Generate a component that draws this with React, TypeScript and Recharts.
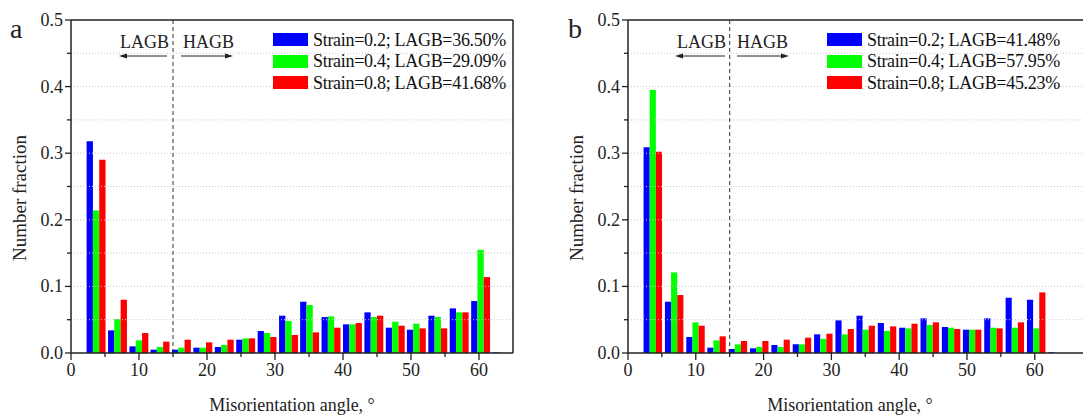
import React from 'react';
import { BarChart, Bar, XAxis, YAxis, ReferenceLine, Legend } from 'recharts';

// bin centres of the misorientation histogram, degrees
const angles = [3.7, 6.85, 10.0, 13.1, 16.25, 19.4, 22.55, 25.7, 28.85, 32.0, 35.1, 38.25, 41.4, 44.55, 47.7, 50.8, 53.95, 57.1, 60.25, 63.4];

// panel a
const aStrain02 = [0.318, 0.034, 0.010, 0.005, 0.005, 0.008, 0.009, 0.020, 0.033, 0.056, 0.077, 0.054, 0.043, 0.061, 0.038, 0.035, 0.056, 0.067, 0.078, 0.001];
const aStrain04 = [0.214, 0.051, 0.019, 0.009, 0.008, 0.008, 0.012, 0.022, 0.030, 0.048, 0.072, 0.055, 0.043, 0.054, 0.047, 0.044, 0.054, 0.061, 0.155, 0.0005];
const aStrain08 = [0.290, 0.080, 0.030, 0.017, 0.020, 0.016, 0.020, 0.022, 0.024, 0.027, 0.031, 0.038, 0.045, 0.056, 0.041, 0.037, 0.037, 0.061, 0.114, 0];
const aNames = ['Strain=0.2; LAGB=36.50%', 'Strain=0.4; LAGB=29.09%', 'Strain=0.8; LAGB=41.68%'];

// panel b
const bStrain02 = [0.309, 0.077, 0.024, 0.008, 0.006, 0.007, 0.012, 0.013, 0.028, 0.049, 0.056, 0.045, 0.038, 0.052, 0.039, 0.035, 0.052, 0.083, 0.080, 0.001];
const bStrain04 = [0.395, 0.121, 0.046, 0.019, 0.013, 0.009, 0.009, 0.013, 0.021, 0.028, 0.035, 0.033, 0.037, 0.042, 0.038, 0.035, 0.038, 0.038, 0.037, 0];
const bStrain08 = [0.302, 0.087, 0.041, 0.025, 0.018, 0.018, 0.020, 0.023, 0.029, 0.036, 0.041, 0.040, 0.044, 0.046, 0.036, 0.035, 0.037, 0.046, 0.091, 0];
const bNames = ['Strain=0.2; LAGB=41.48%', 'Strain=0.4; LAGB=57.95%', 'Strain=0.8; LAGB=45.23%'];

const xTicks = [0, 5, 10, 15, 20, 25, 30, 35, 40, 45, 50, 55, 60];
const yTicks = [0, 0.05, 0.1, 0.15, 0.2, 0.25, 0.3, 0.35, 0.4, 0.45, 0.5];
const gridValues = [0.05, 0.1, 0.15, 0.2, 0.25, 0.3, 0.35, 0.4, 0.45];
const lagbLimit = 15;

const colors = ['#0000ff', '#00ff00', '#ff0000'];
const font = '"Liberation Serif", "Times New Roman", serif';
const ink = '#222';

const buildRows = (s1: number[], s2: number[], s3: number[]) =>
  angles.map((angle, i) => ({ angle, s1: s1[i], s2: s2[i], s3: s3[i] }));

const YTick = (props: any) => {
  const { x, y, payload } = props;
  const major = Math.round(payload.value * 100) % 10 === 0;
  const ax = x + 8;
  return (
    <g>
      <line x1={ax - (major ? 6 : 4)} x2={ax} y1={y} y2={y} stroke={ink} strokeWidth={1.3} />
      {major && (
        <text x={ax - 8} y={y + 6} textAnchor="end" fontSize={18} fontFamily={font} fill={ink}>
          {payload.value.toFixed(1)}
        </text>
      )}
    </g>
  );
};

const XTick = (props: any) => {
  const { x, y, payload } = props;
  const major = payload.value % 10 === 0;
  return (
    <g>
      <line x1={x} x2={x} y1={y} y2={y + (major ? 7 : 4)} stroke={ink} strokeWidth={1.3} />
      {major && (
        <text x={x} y={y + 23} textAnchor="middle" fontSize={18} fontFamily={font} fill={ink}>
          {payload.value}
        </text>
      )}
    </g>
  );
};

const LegendBox = ({ payload }: any) => (
  <div style={{ fontFamily: font, fontSize: 18, color: '#111', letterSpacing: -0.3 }}>
    {(payload || []).map((p: any) => (
      <div key={p.value} style={{ display: 'flex', alignItems: 'center', height: 21.5 }}>
        <span style={{ display: 'inline-block', width: 35, height: 13, background: p.color, marginRight: 5 }} />
        <span style={{ lineHeight: '18px', whiteSpace: 'nowrap' }}>{p.value}</span>
      </div>
    ))}
  </div>
);

type PanelProps = {
  left: number;
  width: number;
  yAxisWidth: number;
  rightMargin: number;
  xMax: number;
  barSize: number;
  rows: { angle: number; s1: number; s2: number; s3: number }[];
  names: string[];
  legendLeft: number;
  showRightFrame: boolean;
};

function Panel({ left, width, yAxisWidth, rightMargin, xMax, barSize, rows, names, legendLeft, showRightFrame }: PanelProps) {
  return (
    <div style={{ position: 'absolute', left, top: 0 }}>
      <BarChart
        width={width}
        height={419}
        data={rows}
        margin={{ top: 20, right: rightMargin, bottom: 0, left: 0 }}
        barGap={0}
        barSize={barSize}
      >
        {gridValues.map((v) => (
          <ReferenceLine key={v} y={v} stroke="#c8c8c8" strokeDasharray="1 2" strokeWidth={1} />
        ))}
        <ReferenceLine y={0.5} stroke={ink} strokeWidth={1.5} />
        {showRightFrame && <ReferenceLine x={xMax} stroke={ink} strokeWidth={1.5} />}
        <ReferenceLine x={lagbLimit} stroke="#333" strokeDasharray="4 3" strokeWidth={1} />
        <XAxis
          dataKey="angle"
          type="number"
          domain={[0, xMax]}
          ticks={xTicks}
          interval={0}
          allowDataOverflow
          height={66}
          tickSize={0}
          tickMargin={0}
          tickLine={false}
          tick={<XTick />}
          axisLine={{ stroke: ink, strokeWidth: 1.5 }}
        />
        <YAxis
          type="number"
          domain={[0, 0.5]}
          ticks={yTicks}
          interval={0}
          width={yAxisWidth}
          tickSize={0}
          tickMargin={8}
          tickLine={false}
          tick={<YTick />}
          axisLine={{ stroke: ink, strokeWidth: 1.5 }}
        />
        <Legend
          layout="horizontal"
          align="center"
          verticalAlign="middle"
          wrapperStyle={{ left: legendLeft, top: 29, width: 260, height: 66 }}
          content={<LegendBox />}
        />
        <Bar dataKey="s1" name={names[0]} fill={colors[0]} isAnimationActive={false} />
        <Bar dataKey="s2" name={names[1]} fill={colors[1]} isAnimationActive={false} />
        <Bar dataKey="s3" name={names[2]} fill={colors[2]} isAnimationActive={false} />
      </BarChart>
    </div>
  );
}

const Arrow = ({ x1, x2, y }: { x1: number; x2: number; y: number }) => {
  const dir = x2 > x1 ? 1 : -1;
  return (
    <g>
      <line x1={x1} x2={x2 - dir * 4} y1={y} y2={y} stroke={ink} strokeWidth={1} />
      <polygon points={`${x2},${y} ${x2 - dir * 8},${y - 2.5} ${x2 - dir * 8},${y + 2.5}`} fill={ink} />
    </g>
  );
};

export default function App() {
  const rowsA = buildRows(aStrain02, aStrain04, aStrain08);
  const rowsB = buildRows(bStrain02, bStrain04, bStrain08);
  return (
    <div
      style={{
        position: 'absolute',
        left: 0,
        top: 0,
        width: 1083,
        height: 419,
        overflow: 'hidden',
        background: '#fff',
        fontFamily: font,
      }}
    >
      <Panel
        left={0}
        width={540}
        yAxisWidth={71}
        rightMargin={27}
        xMax={65}
        barSize={6.3}
        rows={rowsA}
        names={aNames}
        legendLeft={273}
        showRightFrame
      />
      <Panel
        left={540}
        width={560}
        yAxisWidth={88}
        rightMargin={11}
        xMax={68}
        barSize={6.15}
        rows={rowsB}
        names={bNames}
        legendLeft={287}
        showRightFrame={false}
      />
      <svg width={1083} height={419} style={{ position: 'absolute', left: 0, top: 0, pointerEvents: 'none' }}>
        <g fontFamily={font} fill={ink}>
          <text x={10} y={38} fontSize={28}>a</text>
          <text x={568} y={38} fontSize={28}>b</text>

          <text x={120} y={48} fontSize={18}>LAGB</text>
          <text x={183} y={48} fontSize={18}>HAGB</text>
          <text x={677} y={48} fontSize={18}>LAGB</text>
          <text x={737} y={48} fontSize={18}>HAGB</text>

          <text x={292} y={411} fontSize={18} textAnchor="middle">Misorientation angle, °</text>
          <text x={850} y={411} fontSize={18} textAnchor="middle">Misorientation angle, °</text>

          <text x={26} y={198} fontSize={19} textAnchor="middle" transform="rotate(-90 26 198)">Number fraction</text>
          <text x={583} y={198} fontSize={19} textAnchor="middle" transform="rotate(-90 583 198)">Number fraction</text>
        </g>
        <Arrow x1={167} x2={119} y={56} />
        <Arrow x1={181} x2={233} y={56} />
        <Arrow x1={725} x2={675} y={56} />
        <Arrow x1={737} x2={789} y={56} />
      </svg>
    </div>
  );
}
